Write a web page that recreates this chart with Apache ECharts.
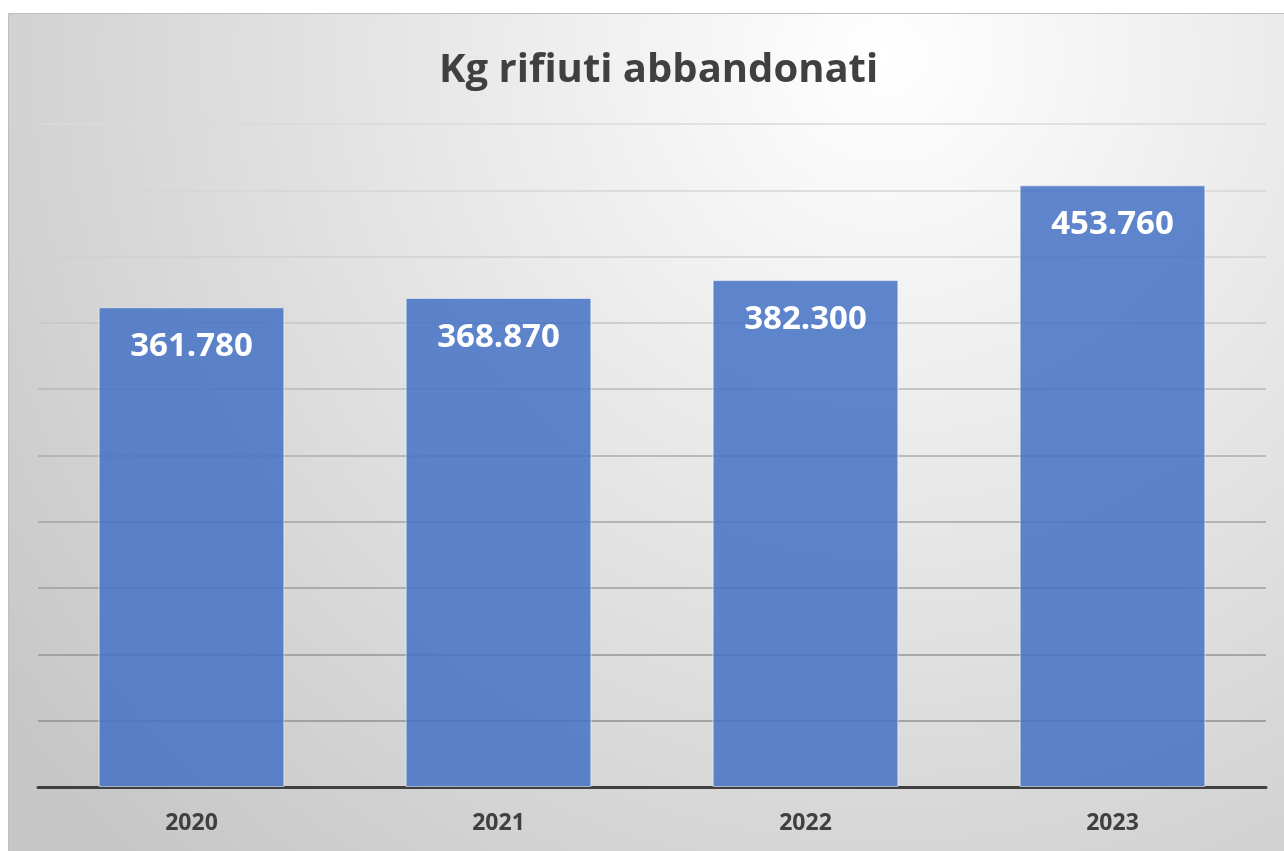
<!DOCTYPE html>
<html>
<head>
<meta charset="utf-8">
<script src="https://cdn.jsdelivr.net/npm/echarts@6/dist/echarts.min.js"></script>
<style>
html,body{margin:0;padding:0;background:#fff;}
#c{width:1284px;height:851px;}
</style>
</head>
<body>
<div id="c"></div>
<script>
const titleText = 'Kg rifiuti abbandonati';
const categories = ['2020', '2021', '2022', '2023'];
const values = [361780, 368870, 382300, 453760];
const yMin = 0, yMax = 500000, yInterval = 50000;

const gridColors = ['#8c8c8c','#8f8f8f','#959595','#9c9c9c','#a3a3a3','#acacac','#b8b8b8','#c6c6c6','#d0d0d0','#d6d6d6','#dadada'];

function fmt(v){ return String(v).replace(/\B(?=(\d{3})+(?!\d))/g, '.'); }

const chart = echarts.init(document.getElementById('c'));
const FONT = '"Open Sans"';
chart.setOption({
  backgroundColor: '#ffffff',
  animation: false,
  graphic: [{
    type: 'rect', z: -10, silent: true,
    shape: {x: 8.5, y: 13.5, width: 1290, height: 850},
    style: {
      fill: {type: 'radial', x: 0.68, y: 0.05, r: 1.3, colorStops: [
        {offset: 0, color: '#ffffff'}, {offset: 1, color: '#c6c6c6'}]},
      stroke: '#bfbfbf', lineWidth: 1
    }
  }],
  title: {
    text: titleText, left: 434, top: 46,
    textStyle: {fontFamily: FONT, fontWeight: 'bold', fontSize: 40, color: '#404040'}
  },
  grid: {left: 38, right: 18, top: 124, bottom: 64, containLabel: false},
  xAxis: {
    type: 'category', data: categories,
    axisLine: {lineStyle: {color: '#404040', width: 3}},
    axisTick: {show: false},
    axisLabel: {margin: 25, fontFamily: FONT, fontWeight: 'bold', fontSize: 23, color: '#404040'}
  },
  yAxis: {
    type: 'value', min: yMin, max: yMax, interval: yInterval,
    axisLabel: {show: false}, axisLine: {show: false}, axisTick: {show: false},
    splitLine: {lineStyle: {color: gridColors, width: 1.5}}
  },
  series: [{
    type: 'bar', data: values, barCategoryGap: '39.5%',
    itemStyle: {color: 'rgba(68,114,196,0.85)', borderColor: 'rgba(255,255,255,0.55)', borderWidth: 1},
    label: {
      show: true, position: 'insideTop', distance: 23,
      formatter: p => fmt(p.value),
      fontFamily: FONT, fontWeight: 'bold', fontSize: 33, color: '#ffffff'
    }
  }]
});
</script>
</body>
</html>
